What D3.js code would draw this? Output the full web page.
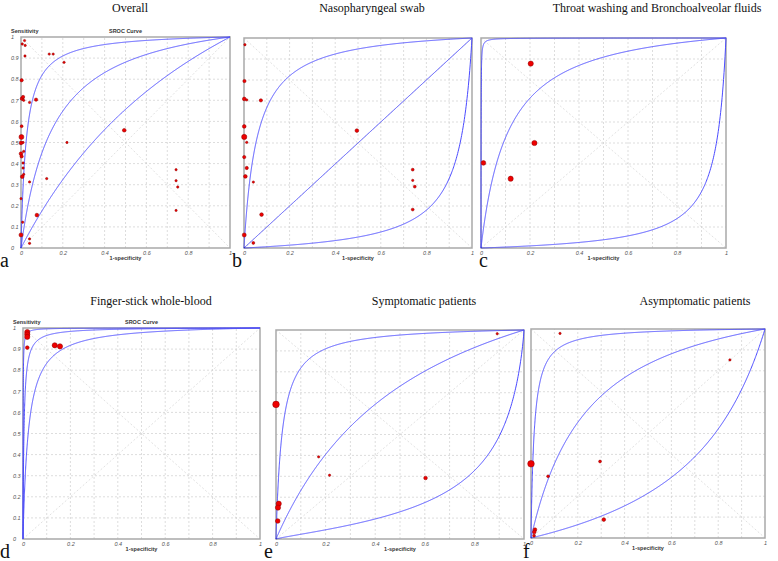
<!DOCTYPE html>
<html><head><meta charset="utf-8">
<script src="https://cdn.jsdelivr.net/npm/d3@7"></script>
<style>body{margin:0;background:#fff;}svg{display:block}</style>
</head><body><svg id="chart" width="778" height="561"></svg>
<script>
// ---------------- DATA ----------------
const panelTitles = ["Overall", "Nasopharyngeal swab", "Throat washing and Bronchoalveolar fluids",
  "Finger-stick whole-blood", "Symptomatic patients", "Asymptomatic patients"];
const panelLetters = ["a", "b", "c", "d", "e", "f"];
const xTickValues = [0, 0.2, 0.4, 0.6, 0.8, 1];
const yTickValues = [0, 0.1, 0.2, 0.3, 0.4, 0.5, 0.6, 0.7, 0.8, 0.9, 1];
const gridValues = [0.1, 0.2, 0.3, 0.4, 0.5, 0.6, 0.7, 0.8, 0.9];

// studies: [1-specificity, sensitivity, study weight]
const overallStudies = [
  [0.006,0.967,1],[0.017,0.983,1],[0.020,0.960,1],[0.019,0.910,1],[0.135,0.919,1],[0.154,0.919,1],[0.206,0.880,1],
  [0.003,0.795,2],[0.005,0.708,2.5],[0.010,0.716,2],[0.013,0.700,1],[0.072,0.703,2],[0.041,0.690,1],
  [0.003,0.577,1.5],[0.002,0.526,4.5],[0.000,0.498,2.5],[0.010,0.500,1],[0.220,0.500,1],[0.013,0.458,1],
  [0.000,0.447,2.5],[0.003,0.434,2],[0.010,0.403,1],[0.010,0.379,1],[0.006,0.338,2.5],[0.013,0.349,1],
  [0.041,0.313,1],[0.123,0.329,1],[0.000,0.234,1],[0.008,0.122,1],[0.000,0.062,3],[0.076,0.156,2.5],
  [0.041,0.043,1],[0.041,0.022,1],[0.494,0.558,2.5],[0.742,0.371,1],[0.742,0.319,1],[0.750,0.289,1],[0.742,0.178,1]
];
const nasoStudies = [
  [0.004,0.968,1],[0.002,0.795,2],[0.001,0.710,2.5],[0.012,0.705,1],[0.074,0.703,2],[0.001,0.579,2.5],
  [0.001,0.529,5],[0.012,0.503,1],[0.001,0.433,2],[0.012,0.381,2],[0.006,0.341,2.5],[0.041,0.314,1],
  [0.077,0.159,2.5],[0.001,0.062,3],[0.041,0.024,1.5],[0.495,0.559,2.5],[0.740,0.373,1.5],[0.740,0.322,1],
  [0.749,0.292,1.5],[0.740,0.183,1.5]
];
const throatStudies = [[0.203,0.878,5],[0.218,0.500,5],[0.010,0.405,4],[0.121,0.330,5]];
const fingerStudies = [[0.018,0.981,5],[0.018,0.970,5],[0.018,0.958,5],[0.018,0.907,2.5],[0.134,0.918,5],[0.156,0.913,5]];
const sympStudies = [[0.892,0.982,1],[0.000,0.644,8],[0.172,0.393,1],[0.216,0.305,1],[0.603,0.292,2.5],
  [0.011,0.169,5],[0.008,0.150,5],[0.007,0.086,4]];
const asympStudies = [[0.124,0.979,1],[0.850,0.852,1],[0.000,0.355,8],[0.295,0.366,1.5],[0.073,0.295,1.5],
  [0.311,0.088,2.5],[0.017,0.040,2.5],[0.014,0.029,2.5],[0.013,0.011,1.5]];

// SROC curves: logit(sens) = intercept + slope * logit(1-spec)
const overallCurves = [[3.7,1],[2.0,1],[0.65,1]];
const nasoCurves    = [[2.9,1],[0,1],[-2.9,1]];
const throatCurves  = [[8,1],[2.3,1],[-3.2,1]];
const fingerCurves  = [[7.7,1],[5.5,1],[3.8,1]];
const sympCurves    = [[3.7,1],[1.0,1],[-1.9,0.85]];
const asympCurves   = [[4.3,1],[1.6,1],[-1.3,1]];

const studySets = [overallStudies, nasoStudies, throatStudies, fingerStudies, sympStudies, asympStudies];
const curveSets = [overallCurves, nasoCurves, throatCurves, fingerCurves, sympCurves, asympCurves];

// ---------------- LAYOUT ----------------
const layout = [
  {x0:21,  x1:230, top:37,  bottom:248, yAxis:true,  titleX:130, titleY:12,  letterX:0,   letterY:267},
  {x0:244, x1:472, top:38,  bottom:248, yAxis:false, titleX:372, titleY:12,  letterX:232, letterY:267},
  {x0:481, x1:726, top:38,  bottom:248, yAxis:false, titleX:657, titleY:12,  letterX:479, letterY:267},
  {x0:23,  x1:260, top:328, bottom:539, yAxis:true,  titleX:151, titleY:305, letterX:0,   letterY:558},
  {x0:276, x1:524, top:330, bottom:539, yAxis:false, titleX:424, titleY:305, letterX:264, letterY:558},
  {x0:531, x1:765, top:329, bottom:538, yAxis:false, titleX:695, titleY:305, letterX:523, letterY:558}
];

const svg = d3.select("#chart");
const rScale = d3.scaleSqrt().domain([0, 8]).range([0, 3.3]);
const logit = p => Math.log(p / (1 - p));
const expit = v => 1 / (1 + Math.exp(-v));
const sampleF = d3.range(0, 1001).map(i => {
  const t = i / 1000;
  return Math.min(1 - 1e-7, Math.max(1e-7, Math.pow(t, 2)));
});

layout.forEach((L, i) => {
  const g = svg.append("g");
  const x = d3.scaleLinear().domain([0, 1]).range([L.x0, L.x1]);
  const y = d3.scaleLinear().domain([0, 1]).range([L.bottom, L.top]);

  const clipId = "clip" + i;
  svg.append("clipPath").attr("id", clipId).append("rect")
    .attr("x", L.x0 - 1).attr("y", L.top - 1)
    .attr("width", L.x1 - L.x0 + 2).attr("height", L.bottom - L.top + 2);

  // grid
  const grid = g.append("g").attr("stroke", "#cfcfcf").attr("stroke-width", 0.7).attr("stroke-dasharray", "2,2");
  gridValues.forEach(v => {
    grid.append("line").attr("x1", x(v)).attr("x2", x(v)).attr("y1", y(0)).attr("y2", y(1));
    grid.append("line").attr("x1", x(0)).attr("x2", x(1)).attr("y1", y(v)).attr("y2", y(v));
  });
  // diagonals
  const diag = g.append("g").attr("stroke", "#d4d4d4").attr("stroke-width", 0.7).attr("stroke-dasharray", "2,2");
  diag.append("line").attr("x1", x(0)).attr("y1", y(0)).attr("x2", x(1)).attr("y2", y(1));
  diag.append("line").attr("x1", x(0)).attr("y1", y(1)).attr("x2", x(1)).attr("y2", y(0));

  // frame
  g.append("rect").attr("x", x(0)).attr("y", y(1)).attr("width", x(1) - x(0)).attr("height", y(0) - y(1))
    .attr("fill", "none").attr("stroke", "#a9a9a9").attr("stroke-width", 1.5);

  // SROC curves
  const line = d3.line().x(d => x(d[0])).y(d => y(d[1]));
  curveSets[i].forEach(([a, b]) => {
    const pts = [[0, 0]].concat(sampleF.map(f => [f, expit(a + b * logit(f))])).concat([[1, 1]]);
    g.append("path").attr("d", line(pts)).attr("fill", "none")
      .attr("stroke", "#4a4aff").attr("stroke-width", 1).attr("clip-path", `url(#${clipId})`);
  });

  // studies
  g.append("g").selectAll("circle").data(studySets[i]).join("circle")
    .attr("cx", d => x(d[0])).attr("cy", d => y(d[1])).attr("r", d => rScale(d[2]))
    .attr("fill", "#ee0000").attr("stroke", "#8a0000").attr("stroke-width", 0.5);

  // x axis
  const xa = g.append("g").attr("transform", `translate(0,${L.bottom})`)
    .call(d3.axisBottom(x).tickValues(xTickValues).tickSize(0).tickPadding(3).tickFormat(d3.format("~g")));
  xa.select(".domain").remove();
  xa.selectAll("text").attr("font-family", "Liberation Sans, Arial, sans-serif").attr("font-size", 5.5)
    .attr("font-style", "italic").attr("fill", "#555");
  g.append("text").attr("x", (L.x0 + L.x1) / 2).attr("y", L.bottom + 12).attr("text-anchor", "middle")
    .attr("font-family", "Liberation Sans, Arial, sans-serif").attr("font-size", 5.5).attr("font-weight", "bold")
    .attr("fill", "#333").text("1-specificity");

  if (L.yAxis) {
    const ya = g.append("g").attr("transform", `translate(${L.x0},0)`)
      .call(d3.axisLeft(y).tickValues(yTickValues).tickSize(0).tickFormat(d3.format("~g")));
    ya.select(".domain").remove();
    ya.selectAll("text").attr("text-anchor", "start").attr("x", -10)
      .attr("font-family", "Liberation Sans, Arial, sans-serif").attr("font-size", 5.5)
      .attr("font-style", "italic").attr("fill", "#555");
    g.append("text").attr("x", L.x0 - 10).attr("y", L.top - 4)
      .attr("font-family", "Liberation Sans, Arial, sans-serif").attr("font-size", 5.5).attr("font-weight", "bold")
      .attr("fill", "#333").text("Sensitivity");
    g.append("text").attr("x", (L.x0 + L.x1) / 2).attr("y", L.top - 4).attr("text-anchor", "middle")
      .attr("font-family", "Liberation Sans, Arial, sans-serif").attr("font-size", 5.5).attr("font-weight", "bold")
      .attr("fill", "#333").text("SROC Curve");
  }

  svg.append("text").attr("x", L.titleX).attr("y", L.titleY).attr("text-anchor", "middle")
    .attr("font-family", "Liberation Serif, Times New Roman, serif").attr("font-size", 12)
    .attr("fill", "#111").text(panelTitles[i]);
  svg.append("text").attr("x", L.letterX).attr("y", L.letterY)
    .attr("font-family", "Liberation Serif, Times New Roman, serif").attr("font-size", 20)
    .attr("fill", "#111").text(panelLetters[i]);
});
</script></body></html>
